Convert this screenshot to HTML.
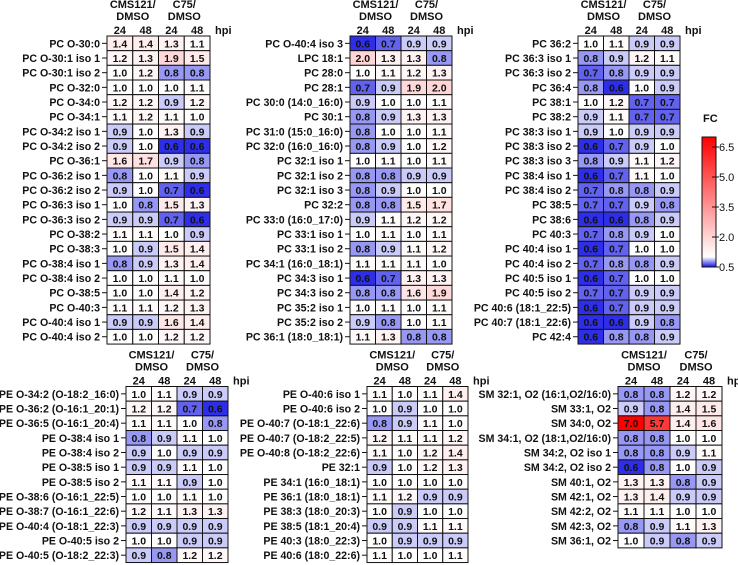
<!DOCTYPE html>
<html><head><meta charset="utf-8"><style>
html,body{margin:0;padding:0;background:#fff;width:738px;height:565px;overflow:hidden}
svg{display:block;font-family:"Liberation Sans",Arial,sans-serif}
</style></head><body>
<svg id="chart" width="738" height="565" viewBox="0 0 738 565" xmlns="http://www.w3.org/2000/svg"></svg>
<script>
const colGroups = ["CMS121/", "C75/"];
const colTimes = ["24", "48", "24", "48"];
const p1Labels = ["PC O-30:0","PC O-30:1 iso 1","PC O-30:1 iso 2","PC O-32:0","PC O-34:0","PC O-34:1","PC O-34:2 iso 1","PC O-34:2 iso 2","PC O-36:1","PC O-36:2 iso 1","PC O-36:2 iso 2","PC O-36:3 iso 1","PC O-36:3 iso 2","PC O-38:2","PC O-38:3","PC O-38:4 iso 1","PC O-38:4 iso 2","PC O-38:5","PC O-40:3","PC O-40:4 iso 1","PC O-40:4 iso 2"];
const p1Values = [[1.4,1.4,1.3,1.1],[1.2,1.3,1.9,1.5],[1.0,1.2,0.8,0.8],[1.0,1.0,1.0,1.1],[1.2,1.2,0.9,1.2],[1.1,1.2,1.1,1.0],[0.9,1.0,1.3,0.9],[0.9,1.0,0.6,0.6],[1.6,1.7,0.9,0.8],[0.8,1.0,1.1,0.9],[0.9,1.0,0.7,0.6],[1.0,0.8,1.5,1.3],[0.9,0.9,0.7,0.6],[1.1,1.1,1.0,0.9],[1.0,0.9,1.5,1.4],[0.8,0.9,1.3,1.4],[1.0,1.0,1.1,1.0],[1.0,1.0,1.4,1.2],[1.1,1.1,1.2,1.3],[0.9,0.9,1.6,1.4],[1.0,1.0,1.2,1.2]];
const p2Labels = ["PC O-40:4 iso 3","LPC 18:1","PC 28:0","PC 28:1","PC 30:0 (14:0_16:0)","PC 30:1","PC 31:0 (15:0_16:0)","PC 32:0 (16:0_16:0)","PC 32:1 iso 1","PC 32:1 iso 2","PC 32:1 iso 3","PC 32:2","PC 33:0 (16:0_17:0)","PC 33:1 iso 1","PC 33:1 iso 2","PC 34:1 (16:0_18:1)","PC 34:3 iso 1","PC 34:3 iso 2","PC 35:2 iso 1","PC 35:2 iso 2","PC 36:1 (18:0_18:1)"];
const p2Values = [[0.6,0.7,0.9,0.9],[2.0,1.3,1.3,0.8],[1.0,1.1,1.2,1.3],[0.7,0.9,1.9,2.0],[0.9,1.0,1.0,1.1],[0.8,0.9,1.3,1.3],[0.8,1.0,1.0,1.1],[0.8,0.9,1.0,1.2],[1.0,1.1,1.0,1.1],[0.8,0.8,0.9,0.9],[0.8,0.9,1.0,1.0],[0.8,0.8,1.5,1.7],[0.9,1.1,1.2,1.2],[1.0,1.1,1.0,1.1],[0.8,0.9,1.1,1.2],[1.1,1.1,1.1,1.0],[0.6,0.7,1.3,1.3],[0.8,0.8,1.6,1.9],[1.0,1.1,1.0,1.1],[0.9,0.8,1.0,1.1],[1.1,1.3,0.8,0.8]];
const p3Labels = ["PC 36:2","PC 36:3 iso 1","PC 36:3 iso 2","PC 36:4","PC 38:1","PC 38:2","PC 38:3 iso 1","PC 38:3 iso 2","PC 38:3 iso 3","PC 38:4 iso 1","PC 38:4 iso 2","PC 38:5","PC 38:6","PC 40:3","PC 40:4 iso 1","PC 40:4 iso 2","PC 40:5 iso 1","PC 40:5 iso 2","PC 40:6 (18:1_22:5)","PC 40:7 (18:1_22:6)","PC 42:4"];
const p3Values = [[1.0,1.1,0.9,0.9],[0.8,0.9,1.2,1.1],[0.7,0.8,0.9,0.9],[0.8,0.6,1.0,0.9],[1.0,1.2,0.7,0.7],[0.9,1.1,0.7,0.7],[0.9,1.0,0.9,0.9],[0.6,0.7,0.9,1.0],[0.8,0.9,1.1,1.2],[0.6,0.7,1.1,1.0],[0.7,0.8,0.8,0.9],[0.7,0.7,0.9,0.8],[0.6,0.6,0.8,0.9],[0.7,0.8,0.9,1.0],[0.6,0.7,1.0,1.0],[0.7,0.8,0.8,0.9],[0.6,0.7,1.0,1.0],[0.7,0.7,0.9,0.9],[0.6,0.7,0.9,0.9],[0.6,0.6,0.9,0.8],[0.6,0.8,0.8,0.9]];
const p4Labels = ["PE O-34:2 (O-18:2_16:0)","PE O-36:2 (O-16:1_20:1)","PE O-36:5 (O-16:1_20:4)","PE O-38:4 iso 1","PE O-38:4 iso 2","PE O-38:5 iso 1","PE O-38:5 iso 2","PE O-38:6 (O-16:1_22:5)","PE O-38:7 (O-16:1_22:6)","PE O-40:4 (O-18:1_22:3)","PE O-40:5 iso 2","PE O-40:5 (O-18:2_22:3)"];
const p4Values = [[1.0,1.1,0.9,0.9],[1.2,1.2,0.7,0.6],[1.1,1.1,1.0,0.8],[0.8,0.9,1.1,1.0],[0.9,1.0,0.9,0.9],[0.9,0.9,1.1,1.0],[1.1,1.1,0.9,1.0],[1.0,1.0,1.1,1.0],[1.2,1.1,1.3,1.3],[0.9,0.9,0.9,0.9],[1.0,1.0,0.9,0.9],[0.9,0.8,1.2,1.2]];
const p5Labels = ["PE O-40:6 iso 1","PE O-40:6 iso 2","PE O-40:7 (O-18:1_22:6)","PE O-40:7 (O-18:2_22:5)","PE O-40:8 (O-18:2_22:6)","PE 32:1","PE 34:1 (16:0_18:1)","PE 36:1 (18:0_18:1)","PE 38:3 (18:0_20:3)","PE 38:5 (18:1_20:4)","PE 40:3 (18:0_22:3)","PE 40:6 (18:0_22:6)"];
const p5Values = [[1.1,1.0,1.1,1.4],[1.0,0.9,1.0,1.0],[0.8,0.9,1.1,1.0],[1.2,1.1,1.1,1.2],[1.1,1.0,1.2,1.4],[0.9,1.0,1.2,1.3],[1.0,1.0,1.0,1.0],[1.1,1.2,0.9,0.9],[1.0,0.9,1.0,1.0],[0.9,0.9,1.1,1.1],[1.0,0.9,0.9,0.9],[1.1,1.0,1.0,1.1]];
const p6Labels = ["SM 32:1, O2 (16:1,O2/16:0)","SM 33:1, O2","SM 34:0, O2","SM 34:1, O2 (18:1,O2/16:0)","SM 34:2, O2 iso 1","SM 34:2, O2 iso 2","SM 40:1, O2","SM 42:1, O2","SM 42:2, O2","SM 42:3, O2","SM 36:1, O2"];
const p6Values = [[0.8,0.8,1.2,1.2],[0.9,0.8,1.4,1.5],[7.0,5.7,1.4,1.6],[0.8,0.8,1.0,1.0],[0.8,0.8,0.9,1.1],[0.6,0.8,1.0,0.9],[1.3,1.3,0.8,0.9],[1.3,1.4,0.9,0.9],[1.1,1.1,1.0,1.0],[0.8,0.9,1.1,1.3],[1.0,0.9,0.8,0.9]];
const fcTicks = [0.5, 2.0, 3.5, 5.0, 6.5];

const NS = "http://www.w3.org/2000/svg";
const svg = document.getElementById("chart");
function mk(tag, attrs, parent){const e=document.createElementNS(NS,tag);for(const k in attrs)e.setAttribute(k,attrs[k]);(parent||svg).appendChild(e);return e;}
function color(v){
  if(v<1){const t=Math.min(1,(1-v)/0.45);return `rgb(${Math.round(255-235*t)},${Math.round(255-235*t)},${Math.round(255-25*t)})`;}
  const t=Math.min(1,(v-1)/6);return `rgb(255,${Math.round(255*(1-t))},${Math.round(255*(1-t))})`;
}
const ROW_H = 14.67;
function drawPanel(name, x0, yTop, w, labels, values){
  const g = mk("g", {});
  
  
  const cw = w/4;
  const colX = i => x0 + i*cw;
  const rowY = r => yTop + r*ROW_H;
  const hdrs = [[colGroups[0], x0+cw], [colGroups[1], x0+3*cw]];
  hdrs.forEach((h,i)=>{
    const t1 = mk("text",{x:h[1],y:yTop-28,"text-anchor":"middle","font-size":"11","font-weight":"bold",fill:"#111"},g);
    t1.textContent=h[0];
    
    
    const t2 = mk("text",{x:h[1],y:yTop-16,"text-anchor":"middle","font-size":"11","font-weight":"bold",fill:"#111"},g);
    t2.textContent="DMSO";
    
    
  });
  colTimes.forEach((c,i)=>{
    const t = mk("text",{x:colX(i)+cw/2,y:yTop-2,"text-anchor":"middle","font-size":"11","font-weight":"bold",fill:"#111"},g);
    t.textContent=c;
    
    
  });
  const hp = mk("text",{x:x0+w+5,y:yTop-2,"font-size":"11","font-weight":"bold",fill:"#111"},g);
  hp.textContent="hpi";
  
  
  values.forEach((row,r)=>{
    const lab = mk("text",{x:x0-7,y:rowY(r)+ROW_H/2+4,"text-anchor":"end","font-size":"10.6","font-weight":"bold",fill:"#111"},g);
    lab.textContent=labels[r];
    
    
    const tk = mk("line",{x1:x0-5,x2:x0,y1:rowY(r)+ROW_H/2,y2:rowY(r)+ROW_H/2,stroke:"#111","stroke-width":"1"},g);
    
    
    row.forEach((v,c)=>{
      const rc = mk("rect",{x:colX(c),y:rowY(r),width:cw,height:ROW_H,fill:color(v),stroke:"#111","stroke-width":"1"},g);
      
      
      const tv = mk("text",{x:colX(c)+cw/2,y:rowY(r)+ROW_H/2+4,"text-anchor":"middle","font-size":"10.5","font-weight":"bold",fill:"#111"},g);
      tv.textContent=v.toFixed(1);
      
      
    });
  });
}
drawPanel("heatmap-pc-ether-1", 107, 36, 103, p1Labels, p1Values);
drawPanel("heatmap-pc-2", 350, 36, 102, p2Labels, p2Values);
drawPanel("heatmap-pc-3", 578, 36, 102, p3Labels, p3Values);
drawPanel("heatmap-pe-ether", 126, 386.5, 102, p4Labels, p4Values);
drawPanel("heatmap-pe", 367, 386.5, 101, p5Labels, p5Values);
drawPanel("heatmap-sm", 618, 386.5, 104, p6Labels, p6Values);

const cbX=702, cbW=14, vMin=0.5, vMax=7.0, yAt0=267, pxPer=20;
const cbY = v => yAt0 - (v-vMin)*pxPer;
const defs = mk("defs",{});
const lg = mk("linearGradient",{id:"fcgrad",x1:"0",y1:"1",x2:"0",y2:"0"},defs);
[[0.5,"#1414e6"],[1.0,"#ffffff"],[7.0,"#ff0000"]].forEach(s=>{mk("stop",{offset:((s[0]-vMin)/(vMax-vMin)).toFixed(3),"stop-color":s[1]},lg);});
const cb = mk("rect",{x:cbX,y:cbY(vMax),width:cbW,height:(vMax-vMin)*pxPer,fill:"url(#fcgrad)",stroke:"#111","stroke-width":"1"});


const fct = mk("text",{x:703,y:122,"font-size":"11","font-weight":"bold",fill:"#111"});
fct.textContent="FC";


fcTicks.forEach(v=>{
  const l = mk("line",{x1:cbX+cbW-4,x2:cbX+cbW+3,y1:cbY(v),y2:cbY(v),stroke:"#111","stroke-width":"1"});
  
  
  const t = mk("text",{x:cbX+cbW+3,y:cbY(v)+4,"font-size":"11",fill:"#111"});
  t.textContent=v.toFixed(1);
  
  
});
</script>
</body></html>
